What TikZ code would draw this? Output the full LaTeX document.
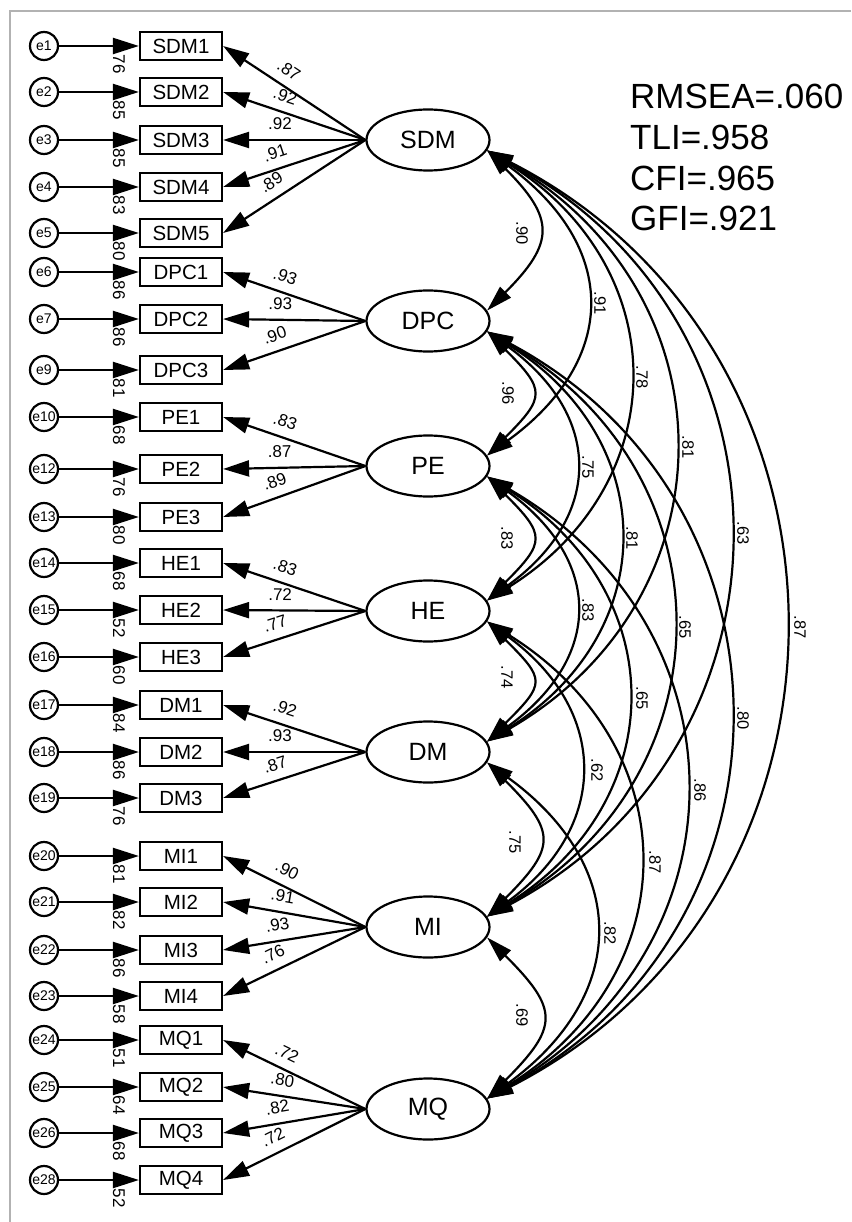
\documentclass[tikz,border=0pt]{standalone}
\usepackage{fontspec}
\setmainfont{Liberation Sans}
\usetikzlibrary{positioning,arrows.meta,shapes.geometric}

\begin{document}
\begin{tikzpicture}[x=1pt,y=-1pt,every node/.style={inner sep=0pt},
  obs/.style={draw,line width=2.2pt,minimum width=82pt,minimum height=28pt,font=\fontsize{20.5}{24}\selectfont},
  lat/.style={draw,ellipse,line width=2.2pt,minimum width=123pt,minimum height=61pt,font=\fontsize{25}{29}\selectfont},
  err/.style={draw,circle,line width=2.2pt,minimum size=28pt,font=\fontsize{14}{16}\selectfont},
  ld/.style={line width=2.2pt,-{Triangle[length=26pt,width=16pt]}},
  cov/.style={line width=2.2pt,{Triangle[length=26pt,width=15pt]}-{Triangle[length=26pt,width=15pt]}},
  ldlbl/.style={font=\fontsize{17}{20}\selectfont},
  rlbl/.style={rotate=-90,anchor=west,font=\fontsize{17}{20}\selectfont},
  covlbl/.style={rotate=-90,font=\fontsize{16.5}{19}\selectfont},
  fitlbl/.style={anchor=base west,font=\fontsize{35}{40}\selectfont}]
\useasboundingbox (0,0) rectangle (851,1222);
\draw[gray!60,line width=1.5pt] (10,1222) -- (10,11) -- (851,11);

% latent factors
\node[lat] (SDM) at (428,140) {SDM};
\node[lat] (DPC) at (428,321) {DPC};
\node[lat] (PE) at (428,466) {PE};
\node[lat] (HE) at (428,611) {HE};
\node[lat] (DM) at (428,752) {DM};
\node[lat] (MI) at (428,927) {MI};
\node[lat] (MQ) at (428,1109) {MQ};

% fit indices
\node[fitlbl] (rmsea) at (630,109) {RMSEA=.060};
\node[fitlbl] (tli) at (630,149.7) {TLI=.958};
\node[fitlbl] (cfi) at (630,190.3) {CFI=.965};
\node[fitlbl] (gfi) at (630,231) {GFI=.921};

% items, errors and loadings
\foreach \nm/\yy/\ee/\rr/\lt/\ld in {SDM1/46/e1/.76/SDM/.87,SDM2/92/e2/.85/SDM/.92,
    SDM3/140/e3/.85/SDM/.92,SDM4/187/e4/.83/SDM/.91,SDM5/233/e5/.80/SDM/.89,
    DPC1/272/e6/.86/DPC/.93,DPC2/319/e7/.86/DPC/.93,DPC3/370/e9/.81/DPC/.90,
    PE1/417/e10/.68/PE/.83,PE2/469/e12/.76/PE/.87,PE3/517/e13/.80/PE/.89,
    HE1/563/e14/.68/HE/.83,HE2/610/e15/.52/HE/.72,HE3/657/e16/.60/HE/.77,
    DM1/705/e17/.84/DM/.92,DM2/752/e18/.86/DM/.93,DM3/798/e19/.76/DM/.87,
    MI1/856/e20/.81/MI/.90,MI2/902/e21/.82/MI/.91,MI3/950/e22/.86/MI/.93,MI4/996/e23/.58/MI/.76,
    MQ1/1040/e24/.51/MQ/.72,MQ2/1087/e25/.64/MQ/.80,MQ3/1133/e26/.68/MQ/.82,MQ4/1180/e28/.52/MQ/.72}{
  \node[obs] (\nm) at (181,\yy) {\nm};
  \node[err] (\ee) at (44,\yy) {\ee};
  \node[rlbl] (r\nm) at (119,{\yy+4}) {\rr};
  \draw[ld] (\ee) -- (\nm);
  \draw[ld] (\lt.west) -- (\nm.east) node[ldlbl,pos=0.6,sloped,above=9pt] (l\nm) {\ld};
}

% factor covariances
\foreach \pa/\pb/\xm/\ang/\cv/\lx/\ly in {SDM/DPC/537/45/.90/522/233,SDM/PE/585/36/.91/600/303,
    SDM/HE/627/32/.78/642/377,SDM/DM/672/30/.81/688/447,SDM/MI/727/28/.63/743/533,
    SDM/MQ/782/27/.87/800/627,DPC/PE/530/45/.96/508/393,DPC/HE/573/36/.75/588/467,
    DPC/DM/617/32/.81/632/538,DPC/MI/670/30/.65/685/627,DPC/MQ/727/28/.80/743/718,
    PE/HE/530/45/.83/507/538,PE/DM/573/36/.83/588/610,PE/MI/625/32/.65/642/698,
    PE/MQ/683/30/.86/700/790,HE/DM/530/45/.74/507/677,HE/MI/578/36/.62/597/770,
    HE/MQ/637/32/.87/655/862,DM/MI/538/45/.75/515/842,DM/MQ/593/36/.82/610/933,
    MI/MQ/540/45/.69/522/1015}{
  \pgfmathsetmacro\ca{(\xm-486)/0.75}
  \pgfmathsetmacro\cb{\ca*tan(\ang)}
  \draw[cov] (\pa.-10) .. controls +(\ca,\cb) and +(\ca,-\cb) .. (\pb.10);
  \node[covlbl] (c\pa\pb) at (\lx,\ly) {\cv};
}
\end{tikzpicture}
\end{document}
